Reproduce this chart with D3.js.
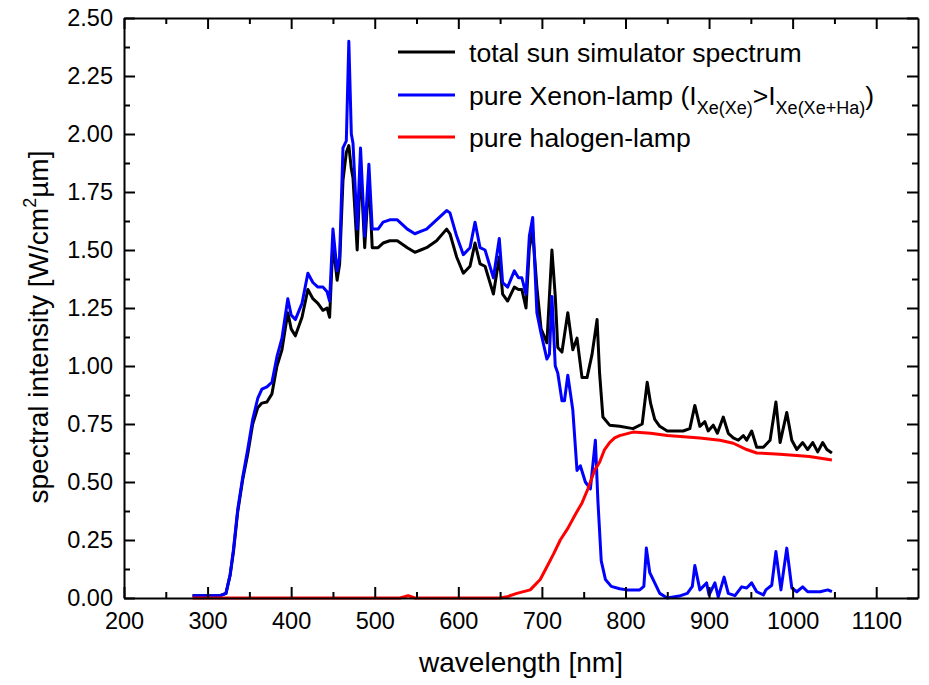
<!DOCTYPE html>
<html>
<head>
<meta charset="utf-8">
<script src="https://cdn.jsdelivr.net/npm/d3@7"></script>
<style>
  body { margin: 0; background: #fff; }
  text { font-family: "Liberation Sans", Arial, sans-serif; fill: #000; }
</style>
</head>
<body>
<div id="chart"></div>
<script>
// total sun simulator spectrum
var totalWl = [282,300,315,322,327,331,336,342,348,354,360,365,371,377,383,389,396,400,405,413,420,426,432,438,443,446,450,455,458,462,466,469,472,474,479,483,488,493,497,504,510,518,527,539,548,555,562,574,586,590,598,606,614,620,626,632,642,649,653,659,667,672,676,681,685,689,694,699,706,712,716,719,724,731,737,742,748,754,760,766,769,773,781,793,809,820,826,830,835,841,850,869,877,883,889,895,899,905,910,917,923,929,935,941,945,951,957,965,973,980,985,993,999,1005,1012,1018,1024,1030,1036,1041,1047];
var totalVal = [0.01,0.01,0.01,0.02,0.10,0.20,0.37,0.51,0.62,0.75,0.82,0.84,0.845,0.88,1.00,1.07,1.23,1.16,1.13,1.21,1.33,1.29,1.27,1.24,1.25,1.21,1.53,1.37,1.44,1.80,1.92,1.95,1.85,1.81,1.50,1.87,1.51,1.81,1.51,1.51,1.53,1.54,1.54,1.51,1.49,1.50,1.51,1.54,1.59,1.57,1.47,1.40,1.43,1.53,1.44,1.43,1.31,1.47,1.31,1.28,1.34,1.33,1.33,1.25,1.51,1.58,1.34,1.16,1.10,1.50,1.30,1.08,1.06,1.23,1.07,1.12,0.95,0.95,1.05,1.20,0.97,0.78,0.745,0.74,0.73,0.75,0.93,0.84,0.77,0.74,0.72,0.72,0.73,0.83,0.74,0.76,0.72,0.745,0.71,0.78,0.71,0.69,0.68,0.70,0.68,0.72,0.65,0.65,0.68,0.845,0.67,0.80,0.68,0.64,0.67,0.64,0.67,0.63,0.67,0.64,0.625];

// pure Xenon-lamp
var xenonWl = [282,300,315,322,327,331,336,342,348,354,360,365,371,377,383,389,396,400,405,413,420,426,432,438,443,446,450,455,458,462,466,469,472,474,479,483,488,493,497,504,510,518,527,539,548,555,562,574,586,590,598,606,614,620,626,632,642,649,653,659,667,672,676,681,685,689,694,699,706,709,712,716,719,724,727,731,737,742,746,752,758,764,767,771,776,783,793,802,817,822,825,829,835,841,850,866,874,880,883,889,897,900,907,911,918,923,931,939,945,951,957,965,968,975,980,986,993,999,1005,1012,1018,1033,1042,1047];
var xenonVal = [0.01,0.01,0.01,0.02,0.10,0.21,0.38,0.52,0.64,0.77,0.86,0.90,0.91,0.93,1.04,1.12,1.29,1.22,1.20,1.27,1.40,1.36,1.34,1.34,1.32,1.28,1.59,1.41,1.47,1.94,1.97,2.40,2.00,1.96,1.59,1.94,1.56,1.87,1.59,1.59,1.62,1.63,1.63,1.59,1.57,1.58,1.59,1.63,1.67,1.66,1.56,1.48,1.51,1.62,1.51,1.50,1.38,1.55,1.36,1.34,1.41,1.38,1.38,1.31,1.56,1.64,1.23,1.14,1.03,1.05,1.30,1.00,0.97,0.85,0.85,0.96,0.81,0.55,0.57,0.50,0.47,0.68,0.42,0.16,0.08,0.05,0.04,0.035,0.035,0.05,0.215,0.11,0.065,0.02,0.0,0.01,0.02,0.05,0.14,0.035,0.065,0.013,0.065,0.005,0.09,0.02,0.01,0.048,0.043,0.065,0.027,0.013,0.035,0.055,0.20,0.035,0.215,0.043,0.027,0.048,0.027,0.027,0.035,0.027];

// pure halogen-lamp
var halogenWl = [282,400,530,540,548,650,658,670,686,698,706,714,722,731,740,748,755,763,769,775,781,787,793,809,830,850,889,913,929,945,957,985,1020,1047];
var halogenVal = [0.0,0.0,0.0,0.01,0.0,0.0,0.005,0.02,0.035,0.08,0.135,0.19,0.25,0.30,0.36,0.41,0.47,0.55,0.585,0.64,0.67,0.69,0.70,0.715,0.71,0.70,0.69,0.68,0.667,0.64,0.625,0.62,0.61,0.595];

var xTicks = [200,300,400,500,600,700,800,900,1000,1100];
var yTicks = [0,0.25,0.5,0.75,1.0,1.25,1.5,1.75,2.0,2.25,2.5];

var W = 929, H = 685;
var margin = {left: 124, top: 18, right: 11, bottom: 87};
var w = W - margin.left - margin.right,
    h = H - margin.top - margin.bottom;

var x = d3.scaleLinear().domain([200, 1150]).range([0, w]);
var y = d3.scaleLinear().domain([0, 2.5]).range([h, 0]);

var svg = d3.select("#chart").append("svg")
  .attr("width", W).attr("height", H);
var g = svg.append("g").attr("transform", "translate(" + margin.left + "," + margin.top + ")");

function toPts(wl, val) {
  return wl.map(function(d, i) { return {x: d, y: val[i]}; });
}
var series = [
  {name: "total", pts: toPts(totalWl, totalVal), color: "#000000"},
  {name: "xenon", pts: toPts(xenonWl, xenonVal), color: "#0000ff"},
  {name: "halogen", pts: toPts(halogenWl, halogenVal), color: "#ff0000"}
];

var line = d3.line()
  .x(function(d) { return x(d.x); })
  .y(function(d) { return y(d.y); });

g.selectAll("path.series")
  .data(series)
  .enter().append("path")
  .attr("class", "series")
  .attr("d", function(d) { return line(d.pts); })
  .attr("fill", "none")
  .attr("stroke", function(d) { return d.color; })
  .attr("stroke-width", 3)
  .attr("stroke-linejoin", "round");

// axes: major ticks inward, minor ticks in between
var xMinor = d3.range(250, 1150, 100);
var yMinor = d3.range(0.125, 2.5, 0.25);

function styleAxis(sel, labels) {
  sel.selectAll("text").style("font-size", "23.5px").attr("fill", "#000");
  sel.select(".domain").attr("stroke-width", 2);
  sel.selectAll(".tick line").attr("stroke-width", 2);
  if (!labels) sel.selectAll("text").remove();
}
function styleMinor(sel) {
  sel.select(".domain").remove();
  sel.selectAll("line").attr("stroke-width", 2);
}

var axBottom = g.append("g").attr("transform", "translate(0," + h + ")")
  .call(d3.axisBottom(x).tickValues(xTicks).tickSize(-11).tickPadding(14).tickFormat(d3.format("d")).tickSizeOuter(0));
styleAxis(axBottom, true);
g.append("g").attr("transform", "translate(0," + h + ")")
  .call(d3.axisBottom(x).tickValues(xMinor).tickSize(-6).tickFormat("").tickSizeOuter(0))
  .call(styleMinor);

var axTop = g.append("g")
  .call(d3.axisTop(x).tickValues(xTicks).tickSize(-11).tickSizeOuter(0));
styleAxis(axTop, false);
g.append("g")
  .call(d3.axisTop(x).tickValues(xMinor).tickSize(-6).tickFormat("").tickSizeOuter(0))
  .call(styleMinor);

var axLeft = g.append("g")
  .call(d3.axisLeft(y).tickValues(yTicks).tickSize(-11).tickPadding(11).tickFormat(d3.format(".2f")).tickSizeOuter(0));
styleAxis(axLeft, true);
g.append("g")
  .call(d3.axisLeft(y).tickValues(yMinor).tickSize(-6).tickFormat("").tickSizeOuter(0))
  .call(styleMinor);

var axRight = g.append("g").attr("transform", "translate(" + w + ",0)")
  .call(d3.axisRight(y).tickValues(yTicks).tickSize(-11).tickSizeOuter(0));
styleAxis(axRight, false);
g.append("g").attr("transform", "translate(" + w + ",0)")
  .call(d3.axisRight(y).tickValues(yMinor).tickSize(-6).tickFormat("").tickSizeOuter(0))
  .call(styleMinor);

// axis titles
svg.append("text")
  .attr("x", margin.left + x(675)).attr("y", 672)
  .attr("text-anchor", "middle")
  .style("font-size", "28px")
  .text("wavelength [nm]");

var yt = svg.append("text")
  .attr("transform", "translate(48,327) rotate(-90)")
  .attr("text-anchor", "middle")
  .style("font-size", "28px");
yt.append("tspan").text("spectral intensity [W/cm");
yt.append("tspan").attr("dy", -12).style("font-size", "18px").text("2");
yt.append("tspan").attr("dy", 12).text("µm]");

// legend
var legend = svg.append("g");
var rows = [52, 95, 137];
series.forEach(function(s, i) {
  legend.append("line")
    .attr("x1", 398).attr("x2", 455)
    .attr("y1", rows[i]).attr("y2", rows[i])
    .attr("stroke", s.color).attr("stroke-width", 3);
});
legend.append("text").attr("x", 469).attr("y", rows[0] + 10)
  .style("font-size", "26.6px").text("total sun simulator spectrum");
var lt = legend.append("text").attr("x", 469).attr("y", rows[1] + 10)
  .style("font-size", "26.6px");
lt.append("tspan").text("pure Xenon-lamp (I");
lt.append("tspan").attr("dy", 9).style("font-size", "18px").text("Xe(Xe)");
lt.append("tspan").attr("dy", -9).text(">I");
lt.append("tspan").attr("dy", 9).style("font-size", "18px").text("Xe(Xe+Ha)");
lt.append("tspan").attr("dy", -9).text(")");
legend.append("text").attr("x", 469).attr("y", rows[2] + 10)
  .style("font-size", "26.6px").text("pure halogen-lamp");
</script>
</body>
</html>
